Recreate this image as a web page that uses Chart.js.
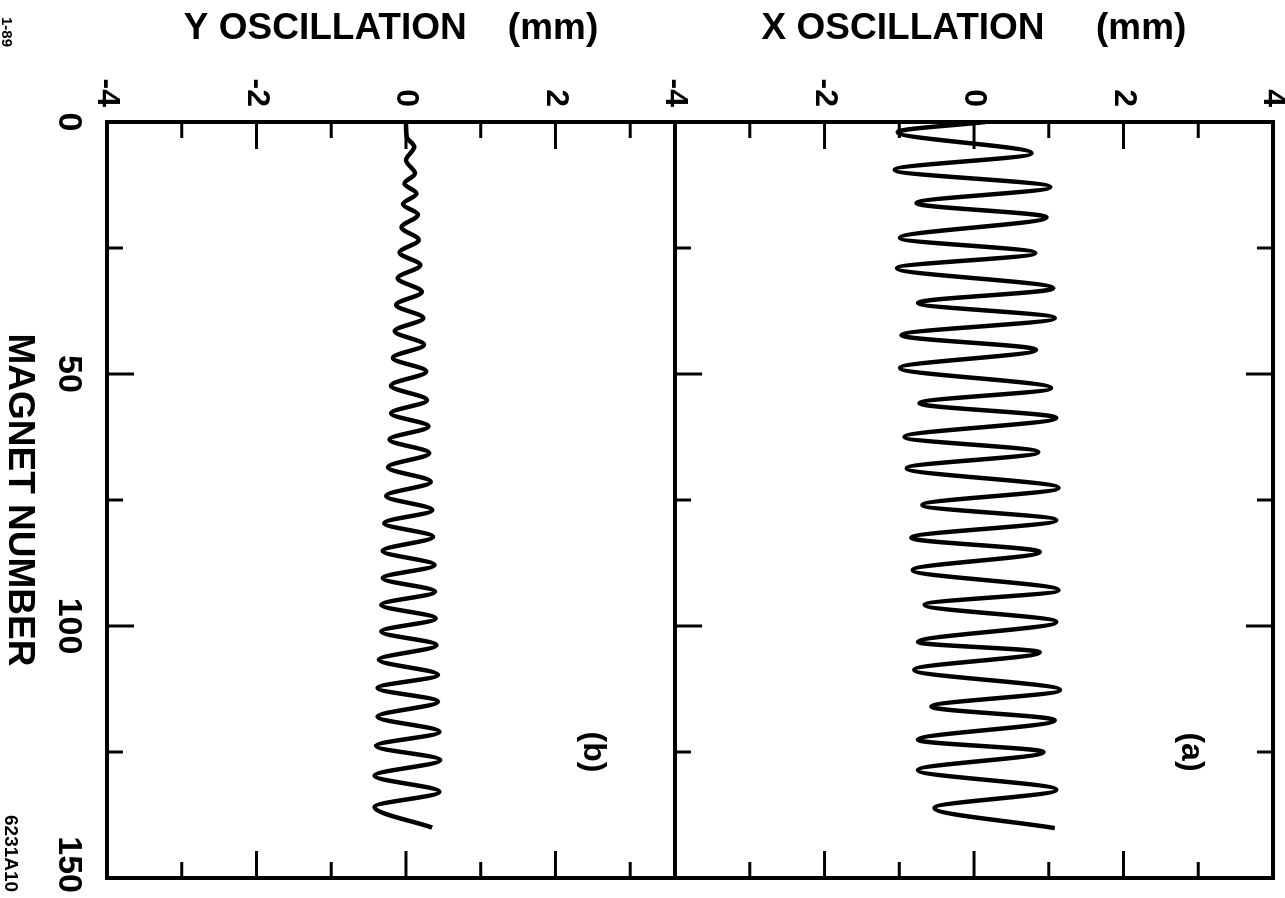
<!DOCTYPE html>
<html>
<head>
<meta charset="utf-8">
<script src="https://cdn.jsdelivr.net/npm/chart.js@4.4.0/dist/chart.umd.min.js"></script>
<style>
  html, body { margin: 0; padding: 0; background: #fff; overflow: hidden; }
  /* the figure is printed turned a quarter turn clockwise */
  #hoja { position: absolute; left: 0; top: 0; width: 898px; height: 1285px;
          transform-origin: 0 0; transform: translateX(1285px) rotate(90deg); }
</style>
</head>
<body>
<div id="hoja"><canvas id="grafico" width="898" height="1285"></canvas></div>
<script>
// turning points of the X oscillation (magnet number, mm)
const magnetX = [0, 2, 6.2, 9.5, 12.9, 16.1, 18.9, 23, 26, 29, 33, 35.9, 38.9, 42.3, 45.2, 48.8,
  52.8, 55.8, 58.7, 62.5, 65.5, 68.7, 72.6, 76, 79, 82.5, 85.3, 88.9, 92.9, 95.8, 99.2, 103.2,
  105.2, 108.7, 112.7, 116, 118.7, 122.6, 125, 128.6, 132.5, 136.1, 140.1];
const xOsc = [0.15, -1.02, 0.77, -1.06, 1.02, -0.77, 0.97, -0.99, 0.82, -1.03, 1.06, -0.75, 1.08,
  -0.97, 0.83, -0.99, 1.03, -0.73, 1.1, -0.93, 0.86, -0.9, 1.13, -0.69, 1.1, -0.84, 0.88, -0.82,
  1.13, -0.66, 1.1, -0.75, 0.88, -0.8, 1.15, -0.57, 1.08, -0.75, 0.93, -0.75, 1.1, -0.53, 1.08];

// turning points of the Y oscillation
const magnetY = [0, 3, 4.9, 7.6, 10.2, 12.2, 14.2, 16.3, 18.4, 20.9, 23.4, 25.9, 28.4, 31, 33.7,
  36.3, 38.9, 41.5, 44.2, 46.8, 49.5, 52.3, 55.2, 57.8, 60.4, 63, 65.7, 68.5, 71.4, 74.2, 77,
  79.6, 82.3, 85.1, 87.9, 90.5, 93.2, 95.8, 98.5, 101.1, 103.8, 106.7, 109.7, 112.3, 115, 118,
  121, 123.8, 126.6, 129.7, 132.9, 135.9, 140];
const yOsc = [0, 0.01, 0.11, 0.0, 0.12, -0.02, 0.14, -0.04, 0.16, -0.06, 0.17, -0.085, 0.19,
  -0.11, 0.21, -0.13, 0.23, -0.15, 0.24, -0.175, 0.27, -0.2, 0.28, -0.2, 0.3, -0.22, 0.31,
  -0.24, 0.33, -0.265, 0.35, -0.29, 0.36, -0.31, 0.38, -0.31, 0.39, -0.33, 0.4, -0.33, 0.41,
  -0.36, 0.43, -0.38, 0.43, -0.38, 0.45, -0.4, 0.46, -0.42, 0.45, -0.42, 0.35];

const magnetTicks = [25, 50, 75, 100, 125];
const magnetLabels = [0, 50, 100, 150];
const oscTicks = [-3, -2, -1, 0, 1, 2, 3];
const panelTags = ["(a)", "(b)"];
const tagMagnet = [125, 125];
const tagValue = [2.9, 2.5];

const fuente = "'Liberation Sans', Arial, sans-serif";
Chart.defaults.color = "#000";
Chart.defaults.font.family = fuente;

function etiqueta(v) {
  return Number.isInteger(v) && v % 2 === 0 ? String(v) : "";
}

// frame, inward tick marks and the loose texts
const marco = {
  id: "marco",
  afterDraw(chart) {
    const { ctx, chartArea: a, scales } = chart;
    const sx = scales.x;
    const mid = scales.yx.bottom;
    const raya = (x1, y1, x2, y2) => {
      ctx.beginPath(); ctx.moveTo(x1, y1); ctx.lineTo(x2, y2); ctx.stroke();
    };
    ctx.save();
    ctx.strokeStyle = "#000";
    ctx.lineWidth = 4;
    ctx.strokeRect(a.left, a.top, a.right - a.left, a.bottom - a.top);
    raya(a.left, mid, a.right, mid);

    ctx.lineWidth = 3;
    magnetTicks.forEach(m => {
      const px = sx.getPixelForValue(m);
      const len = m % 50 === 0 ? 27 : 16;
      raya(px, a.bottom, px, a.bottom - len);
      raya(px, a.top, px, a.top + len);
      raya(px, mid, px, mid - len);
    });
    [scales.yx, scales.yy].forEach(s => {
      oscTicks.forEach(v => {
        if (v >= s.max) return;
        const py = s.getPixelForValue(v);
        const len = v % 2 === 0 ? 27 : 16;
        raya(a.left, py, a.left + len, py);
        raya(a.right, py, a.right - len, py);
      });
    });

    ctx.fillStyle = "#000";
    ctx.textBaseline = "alphabetic";
    ctx.textAlign = "center";
    ctx.font = "bold 34px " + fuente;
    magnetLabels.forEach(m => {
      const t = String(m);
      const w = ctx.measureText(t).width;
      const px = Math.min(sx.getPixelForValue(m), chart.width - 5 - w / 2);
      ctx.fillText(t, px, a.bottom + 48);
    });

    ctx.font = "bold 32px " + fuente;
    ctx.textBaseline = "middle";
    ["yx", "yy"].forEach((id, i) => {
      ctx.fillText(panelTags[i], sx.getPixelForValue(tagMagnet[i]), scales[id].getPixelForValue(tagValue[i]));
    });

    ctx.textAlign = "left";
    ctx.textBaseline = "alphabetic";
    ctx.font = "bold 15px " + fuente;
    ctx.fillText("1-89", 17, 1283);
    ctx.font = "bold 19px " + fuente;
    ctx.fillText("6231A10", 815, 1280);
    ctx.restore();
  }
};

function ejeY(titulo, peso, orden, tope) {
  return {
    type: "linear",
    position: "left",
    stack: "osc",
    stackWeight: peso,
    weight: orden,
    min: -4,
    max: tope,
    grid: { display: false, drawTicks: false },
    border: { display: false },
    ticks: { stepSize: 1, autoSkip: false, padding: 15, callback: etiqueta,
             font: { size: 32, weight: "bold" } },
    title: { display: true, text: titulo, padding: { top: 7, bottom: 0 },
             font: { size: 37, weight: "bold" } },
    afterFit: s => { s.width = 122; s.paddingTop = 0; s.paddingBottom = 0; }
  };
}

const linea = {
  borderColor: "#000",
  borderWidth: 4.5,
  pointRadius: 0,
  fill: false,
  tension: 0.4,
  cubicInterpolationMode: "monotone"
};

new Chart(document.getElementById("grafico").getContext("2d"), {
  type: "line",
  data: {
    datasets: [
      Object.assign({ label: "X", yAxisID: "yx",
        data: magnetX.map((m, i) => ({ x: m, y: xOsc[i] })) }, linea),
      Object.assign({ label: "Y", yAxisID: "yy",
        data: magnetY.map((m, i) => ({ x: m, y: yOsc[i] })) }, linea)
    ]
  },
  options: {
    responsive: false,
    animation: false,
    devicePixelRatio: 1,
    layout: { padding: { top: 12, right: 20, bottom: 0, left: 0 } },
    plugins: { legend: { display: false }, tooltip: { enabled: false } },
    scales: {
      x: {
        type: "linear",
        min: 0,
        max: 150,
        grid: { display: false, drawTicks: false },
        border: { display: false },
        ticks: { display: false },
        title: { display: true, text: "MAGNET NUMBER", padding: { top: 0, bottom: -3 },
                 font: { size: 37, weight: "bold" } },
        afterFit: s => { s.height = 107; s.paddingLeft = 0; s.paddingRight = 0; }
      },
      yx: ejeY("X OSCILLATION     (mm)", 8, 2, 4),
      yy: ejeY("Y OSCILLATION    (mm)", 7.6, 1, 3.6)
    }
  },
  plugins: [marco]
});
</script>
</body>
</html>
